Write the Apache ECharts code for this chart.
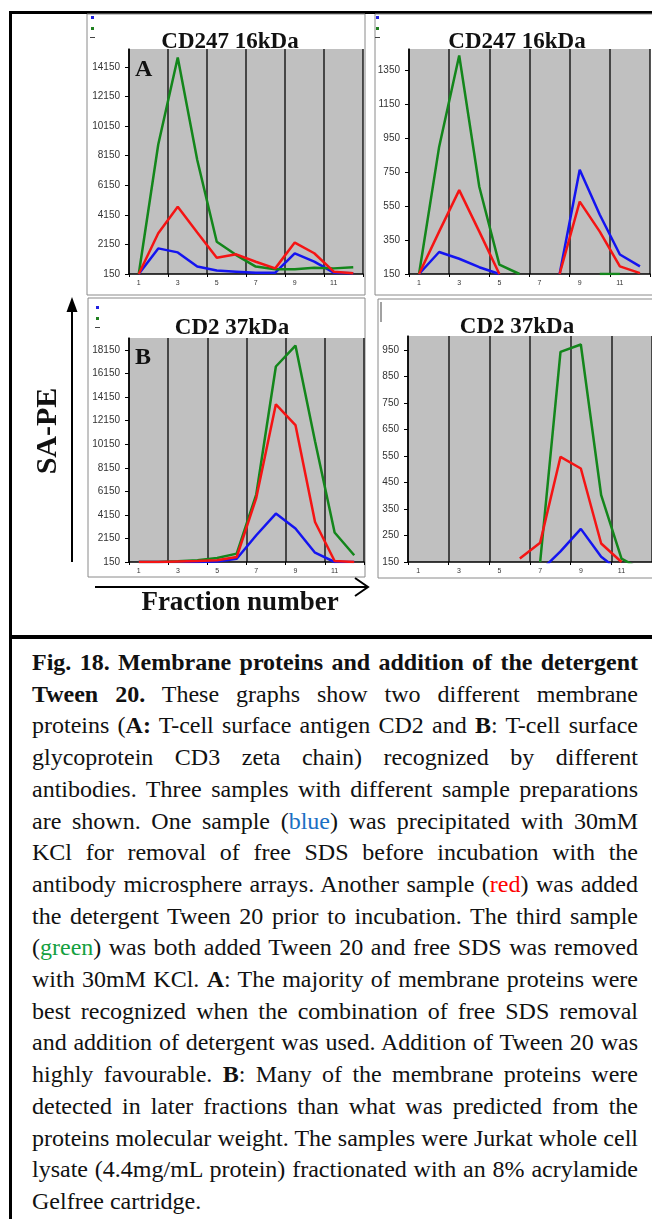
<!DOCTYPE html>
<html>
<head>
<meta charset="utf-8">
<script src="https://cdn.jsdelivr.net/npm/echarts@6/dist/echarts.min.js"></script>
<style>
    body { margin: 0; background: #fff; }
    .rule { position: absolute; background: #000; }
    #caption {
        position: absolute; left: 32px; top: 647px; width: 606px;
        font-family: 'Liberation Serif', 'Times New Roman', serif;
        font-size: 24px; line-height: 31.7px; color: #111;
    }
    #caption div { text-align: justify; text-align-last: justify; white-space: normal; }
    #caption div.last { text-align-last: left; }
    .blue { color: #1a6fc4; }
    .red { color: #ff0000; }
    .green { color: #14a040; }
</style>
</head>
<body>
<div class="rule" style="left:9px;top:11px;width:643px;height:3px;"></div>
<div class="rule" style="left:9px;top:11px;width:3px;height:1208px;"></div>
<div class="rule" style="left:9px;top:635px;width:643px;height:4px;"></div>

<div id="main" style="position:absolute;left:0;top:0;width:652px;height:640px;"></div>

<div id="caption">
    <div><b>Fig. 18. Membrane proteins and addition of the detergent</b></div>
    <div><b>Tween 20.</b> These graphs show two different membrane</div>
    <div>proteins (<b>A:</b> T-cell surface antigen CD2 and <b>B</b>: T-cell surface</div>
    <div>glycoprotein CD3 zeta chain) recognized by different</div>
    <div>antibodies. Three samples with different sample preparations</div>
    <div>are shown. One sample (<span class="blue">blue</span>) was precipitated with 30mM</div>
    <div>KCl for removal of free SDS before incubation with the</div>
    <div>antibody microsphere arrays. Another sample (<span class="red">red</span>) was added</div>
    <div>the detergent Tween 20 prior to incubation. The third sample</div>
    <div>(<span class="green">green</span>) was both added Tween 20 and free SDS was removed</div>
    <div>with 30mM KCl. <b>A</b>: The majority of membrane proteins were</div>
    <div>best recognized when the combination of free SDS removal</div>
    <div>and addition of detergent was used. Addition of Tween 20 was</div>
    <div>highly favourable. <b>B</b>: Many of the membrane proteins were</div>
    <div>detected in later fractions than what was predicted from the</div>
    <div>proteins molecular weight. The samples were Jurkat whole cell</div>
    <div>lysate (4.4mg/mL protein) fractionated with an 8% acrylamide</div>
    <div class="last">Gelfree cartridge.</div>
</div>

<script type="text/javascript">
    // fraction numbers on the x axis
    var fractions = ['1', '2', '3', '4', '5', '6', '7', '8', '9', '10', '11', '12'];
    var panelTitles = ['CD247 16kDa', 'CD247 16kDa', 'CD2 37kDa', 'CD2 37kDa'];

    // A: CD247 16kDa, left chart
    var aLeftBlue  = [150, 1880, 1610, 650, 380, 310, 240, 240, 1550, 980, 240, 200];
    var aLeftGreen = [150, 8900, 14770, 7850, 2330, 1430, 650, 470, 470, 580, 530, 600];
    var aLeftRed   = [150, 2900, 4690, 2960, 1250, 1480, 980, 530, 2270, 1550, 310, 200];
    // A: CD247 16kDa, right chart
    var aRightBlue  = [150, 280, 240, 190, 150, null, null, 150, 765, 500, 265, 195];
    var aRightGreen = [150, 900, 1440, 665, 205, 150, null, null, null, 150, 150, null];
    var aRightRed   = [150, 400, 645, 400, 150, null, null, 150, 577, 400, 195, 155];
    // B: CD2 37kDa, left chart
    var bLeftBlue  = [150, 150, 150, 150, 200, 430, 2420, 4260, 2990, 940, 150, 150];
    var bLeftGreen = [150, 150, 210, 290, 490, 860, 5900, 16750, 18530, 10400, 2650, 720];
    var bLeftRed   = [150, 150, 200, 235, 290, 575, 5600, 13540, 11780, 3550, 235, 150];
    // B: CD2 37kDa, right chart (below 150 the original cut the lines off)
    var bRightBlue  = [null, null, null, null, null, null, 115, 190, 275, 170, 110, null];
    var bRightGreen = [null, null, null, null, null, null, 150, 943, 971, 402, 163, 120];
    var bRightRed   = [null, null, null, null, null, 163, 223, 547, 503, 220, 150, null];

    // y axis ranges (ticks start at 150)
    var yMin = 150;
    var yMax = [15350, 1478, 19170, 1003];
    var yStep = [2000, 200, 2000, 100];

    var panelData = [
        [aLeftBlue, aLeftGreen, aLeftRed],
        [aRightBlue, aRightGreen, aRightRed],
        [bLeftBlue, bLeftGreen, bLeftRed],
        [bRightBlue, bRightGreen, bRightRed]
    ];
    var sampleNames = ['KCl', 'Tween 20 + KCl', 'Tween 20'];
    var sampleColors = ['#1414f0', '#13861b', '#f41414'];

    var gridPos = [
        { left: 129, top: 49, width: 234, height: 225 },
        { left: 409, top: 49, width: 241, height: 225 },
        { left: 129, top: 338, width: 235, height: 224 },
        { left: 408, top: 336, width: 244, height: 226 }
    ];

    var dom = document.getElementById('main');
    var myChart = echarts.init(dom);

    var grids = [], xAxes = [], yAxes = [], series = [];
    for (var i = 0; i < 4; i++) {
        grids.push({
            left: gridPos[i].left, top: gridPos[i].top,
            width: gridPos[i].width, height: gridPos[i].height,
            show: true, backgroundColor: '#c0c0c0', borderWidth: 0,
            containLabel: false
        });
        xAxes.push({
            gridIndex: i, type: 'category', data: fractions, boundaryGap: true,
            axisLine: { lineStyle: { color: '#000', width: 1.5 } },
            axisTick: { show: true, interval: 1, length: 3, lineStyle: { color: '#000' } },
            axisLabel: { interval: 1, fontSize: 7, color: '#333', margin: 6, fontFamily: 'Liberation Sans' },
            splitLine: { show: true, interval: 1, lineStyle: { color: '#1e1e1e', width: 1.5 } }
        });
        yAxes.push({
            gridIndex: i, type: 'value', min: yMin, max: yMax[i], interval: yStep[i],
            axisLine: { show: true, lineStyle: { color: '#000', width: 1.5 } },
            axisTick: { show: true, length: 4, lineStyle: { color: '#000' } },
            axisLabel: {
                showMaxLabel: false, fontSize: 10, color: '#333', margin: 9, fontFamily: 'Liberation Sans',
                formatter: function (v) { return String(v); }
            },
            splitLine: { show: false }
        });
        for (var s = 0; s < 3; s++) {
            series.push({
                name: sampleNames[s], type: 'line',
                xAxisIndex: i, yAxisIndex: i,
                data: panelData[i][s],
                showSymbol: false, symbol: 'none',
                lineStyle: { color: sampleColors[s], width: 2.5 },
                itemStyle: { color: sampleColors[s] },
                z: 2 + s
            });
        }
    }

    var serif = "'Liberation Serif', 'Times New Roman', serif";
    var graphics = [];
    // chart frames
    var frames = [[87, 14, 278, 281], [375, 14, 285, 281], [88, 298, 277, 279], [378, 299, 280, 279]];
    frames.forEach(function (f) {
        graphics.push({ type: 'rect', shape: { x: f[0], y: f[1], width: f[2], height: f[3] },
            style: { fill: null, stroke: '#8a8a8a', lineWidth: 1 }, silent: true });
    });
    // legend remnants
    [[91, 16], [376, 16], [96, 306]].forEach(function (p) {
        graphics.push({ type: 'rect', shape: { x: p[0], y: p[1], width: 3, height: 3 }, style: { fill: '#2020e0' } });
        graphics.push({ type: 'rect', shape: { x: p[0], y: p[1] + 11, width: 3, height: 3 }, style: { fill: '#208020' } });
        graphics.push({ type: 'rect', shape: { x: p[0] - 1, y: p[1] + 21, width: 5, height: 1 }, style: { fill: '#444' } });
    });
    graphics.push({ type: 'line', shape: { x1: 381, y1: 302, x2: 381, y2: 322 }, style: { stroke: '#444', lineWidth: 1 } });
    // titles
    var titlePos = [[230, 42], [517, 42], [232, 328], [517, 327]];
    titlePos.forEach(function (p, k) {
        graphics.push({ type: 'text', x: p[0], y: p[1],
            style: { text: panelTitles[k], font: 'bold 23px ' + serif, fill: '#111',
                align: 'center', verticalAlign: 'middle', textAlign: 'center', textVerticalAlign: 'middle' } });
    });
    // panel letters
    graphics.push({ type: 'text', x: 135, y: 70, z: 10,
        style: { text: 'A', font: 'bold 24px ' + serif, fill: '#111', align: 'left', verticalAlign: 'middle', textVerticalAlign: 'middle' } });
    graphics.push({ type: 'text', x: 135, y: 358, z: 10,
        style: { text: 'B', font: 'bold 24px ' + serif, fill: '#111', align: 'left', verticalAlign: 'middle', textVerticalAlign: 'middle' } });
    // SA-PE arrow and label
    graphics.push({ type: 'line', shape: { x1: 72, y1: 562, x2: 72, y2: 308 }, style: { stroke: '#000', lineWidth: 2 } });
    graphics.push({ type: 'polygon', shape: { points: [[72, 297], [66.5, 312], [77.5, 312]] }, style: { fill: '#000' } });
    graphics.push({ type: 'text', x: 48, y: 431, rotation: Math.PI / 2,
        style: { text: 'SA-PE', font: 'bold 30px ' + serif, fill: '#111',
            align: 'center', verticalAlign: 'middle', textAlign: 'center', textVerticalAlign: 'middle' } });
    // Fraction number arrow and label
    graphics.push({ type: 'line', shape: { x1: 95, y1: 587, x2: 367, y2: 587 }, style: { stroke: '#000', lineWidth: 2 } });
    graphics.push({ type: 'polyline', shape: { points: [[355, 578], [368, 587], [355, 596]] }, style: { stroke: '#000', lineWidth: 2, fill: null } });
    graphics.push({ type: 'text', x: 240, y: 603,
        style: { text: 'Fraction number', font: 'bold 27px ' + serif, fill: '#111',
            align: 'center', verticalAlign: 'middle', textAlign: 'center', textVerticalAlign: 'middle' } });

    var option = {
        animation: false,
        grid: grids,
        xAxis: xAxes,
        yAxis: yAxes,
        series: series,
        graphic: { elements: graphics }
    };
    myChart.setOption(option, true);
</script>
</body>
</html>
